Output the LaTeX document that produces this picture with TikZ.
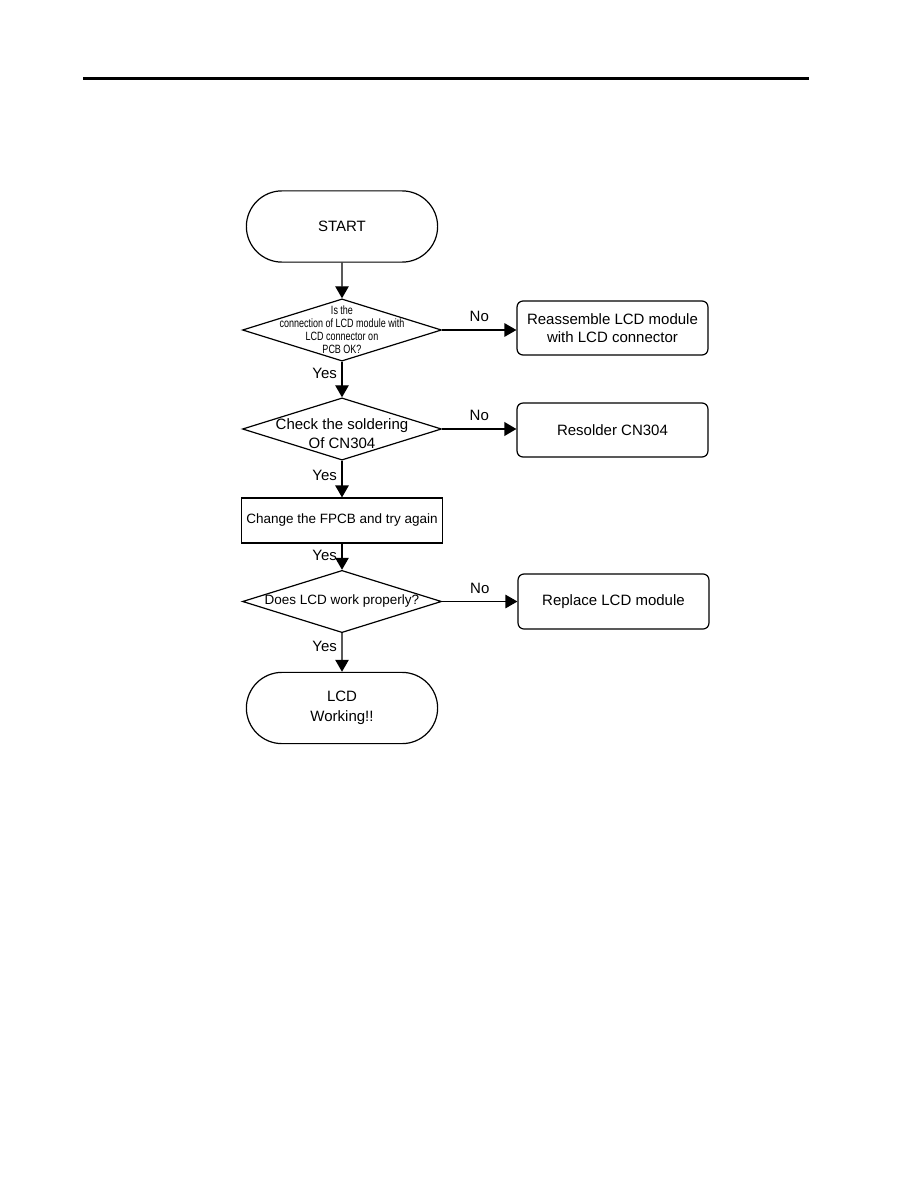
\documentclass[tikz,border=0pt]{standalone}
\usepackage{fontspec}
\setmainfont{Liberation Sans}
\newfontfamily\narrowsf[FakeStretch=0.75]{Liberation Sans}
\usetikzlibrary{arrows.meta,shapes.geometric,shapes.misc}
\tikzset{
 fc line/.style={line width=0.8pt},
 fc flow/.style={fc line,-{Triangle[length=8pt,width=9pt]}},
 fc terminal/.style={fc line,draw,rounded rectangle,minimum width=127.5pt,
                     minimum height=47.5pt,inner sep=0pt,align=center,
                     font=\fontsize{10}{13.3}\selectfont},
 fc decision/.style={fc line,draw,diamond,minimum width=132.7pt,
                     minimum height=41.5pt,inner sep=0pt},
 fc decision text/.style={align=center,inner sep=0pt},
 fc action/.style={fc line,draw,rounded corners=4pt,minimum width=127.3pt,
                   minimum height=36pt,align=center,
                   font=\fontsize{10}{12}\selectfont},
 fc process/.style={fc line,draw,minimum width=132pt,minimum height=30pt,
                    font=\fontsize{9}{11}\selectfont},
 fc answer/.style={font=\fontsize{10}{12}\selectfont,inner sep=3pt}
}
\begin{document}
\begin{tikzpicture}[x=0.6667pt,y=-0.6667pt]
 \useasboundingbox (0,0) rectangle (918,1188);
 \draw[line width=2pt] (83,79)--(809,79);

 \node[fc terminal] (start) at (342,226.5) {START};
 \node[fc decision,label={[fc decision text,
   font=\narrowsf\fontsize{8}{8.7}\selectfont]center:{Is the\\
   connection of LCD module with\\LCD connector on\\PCB OK?}}]
   (q1) at (342,330) {};
 \node[fc action] (fix1) at (612.5,328) {Reassemble LCD module\\with LCD connector};
 \node[fc decision,label={[fc decision text,yshift=-3pt,
   font=\fontsize{10}{12.7}\selectfont]center:{Check the soldering\\Of CN304}}]
   (q2) at (342,429) {};
 \node[fc action] (fix2) at (612.5,430) {Resolder CN304};
 \node[fc process] (fpcb) at (342,520.5) {Change the FPCB and try again};
 \node[fc decision,label={[fc decision text,
   font=\fontsize{9}{11}\selectfont]center:{Does LCD work properly?}}]
   (q3) at (342,601.5) {};
 \node[fc action,minimum height=36.7pt] (fix3) at (613.5,601.5) {Replace LCD module};
 \node[fc terminal] (stop) at (342,708) {LCD\\Working!!};

 \draw[fc flow] (start)--(q1);
 \draw[fc flow] (q1)--node[fc answer,left,pos=.33] {Yes}(q2);
 \draw[fc flow] (q2)--node[fc answer,left,pos=.4] {Yes}(fpcb);
 \draw[fc flow] (fpcb)--node[fc answer,left,pos=.46] {Yes}(q3);
 \draw[fc flow] (q3)--node[fc answer,left,pos=.33] {Yes}(stop);
 \draw[fc flow] (q1.east)--node[fc answer,above,yshift=2pt] {No}(q1.east-|fix1.west);
 \draw[fc flow,line width=1.4pt] (q2.east)--node[fc answer,above,yshift=2pt] {No}(q2.east-|fix2.west);
 \draw[fc flow] (q3.east)--node[fc answer,above,yshift=2pt] {No}(q3.east-|fix3.west);
\end{tikzpicture}
\end{document}
